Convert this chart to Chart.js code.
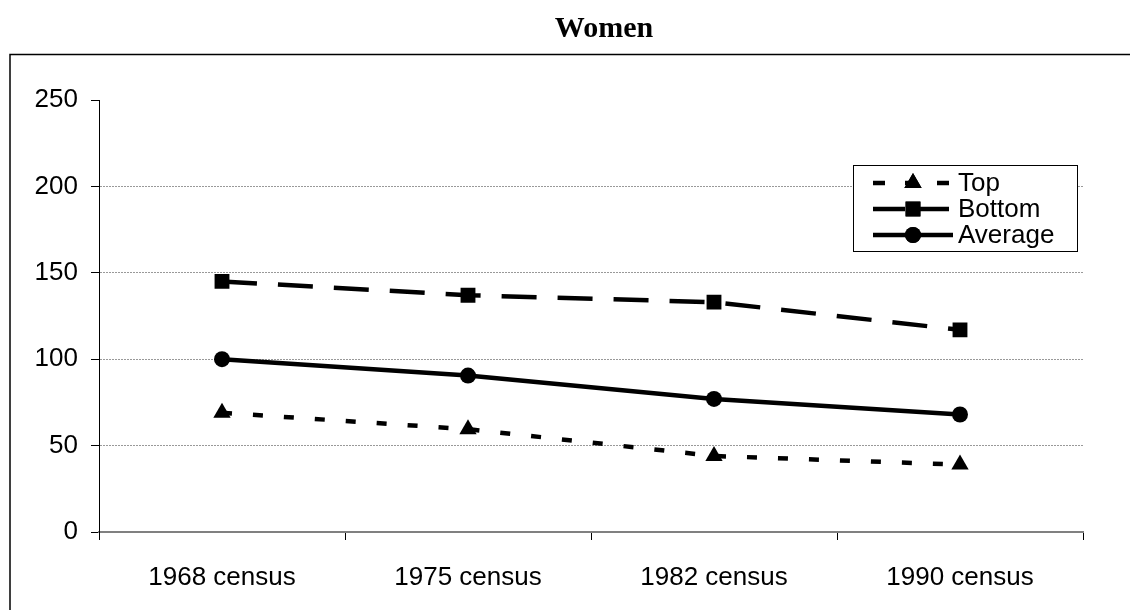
<!DOCTYPE html>
<html>
<head>
<meta charset="utf-8">
<script src="https://cdn.jsdelivr.net/npm/chart.js@4.4.1/dist/chart.umd.min.js"></script>
<style>
  html, body { margin: 0; padding: 0; background: #fff; }
  #wrap { width: 1130px; height: 610px; position: relative; }
</style>
</head>
<body>
<div id="wrap"><canvas id="womenChart"></canvas></div>
<script>
// data
const censusLabels = ['1968 census', '1975 census', '1982 census', '1990 census'];
const topValues = [69, 59.5, 44, 39];
const bottomValues = [145, 137, 133, 117];
const averageValues = [100, 90.5, 77, 68];
const yTicks = [0, 50, 100, 150, 200, 250];

const sansFont = "'Liberation Sans', Arial, sans-serif";
const serifFont = "'Liberation Serif', 'Times New Roman', serif";

// frame round the chart + title
const framePlugin = {
    id: 'frame',
    beforeDraw(chart) {
        const ctx = chart.ctx;
        ctx.save();
        ctx.strokeStyle = '#000';
        ctx.lineWidth = 1.5;
        ctx.strokeRect(10, 54.5, 1300, 800);
        ctx.fillStyle = '#000';
        ctx.font = 'bold 30px ' + serifFont;
        ctx.textAlign = 'center';
        ctx.textBaseline = 'middle';
        ctx.fillText('Women', 604, 29);
        ctx.restore();
    }
};

// legend box inside the plot, like the original
const boxLegend = {
    id: 'boxLegend',
    afterDraw(chart) {
        const ctx = chart.ctx;
        const x0 = 853, y0 = 165, w = 224, h = 86;
        ctx.save();
        ctx.fillStyle = '#fff';
        ctx.fillRect(x0, y0, w, h);
        ctx.strokeStyle = '#000';
        ctx.lineWidth = 1;
        ctx.strokeRect(x0 + 0.5, y0 + 0.5, w, h);
        chart.data.datasets.forEach((ds, i) => {
            const cy = y0 + 18 + i * 26;
            ctx.beginPath();
            ctx.setLineDash(ds.legendDash || []);
            ctx.lineWidth = ds.borderWidth;
            ctx.strokeStyle = ds.borderColor;
            ctx.moveTo(873, cy);
            ctx.lineTo(953, cy);
            ctx.stroke();
            ctx.setLineDash([]);
            ctx.fillStyle = '#000';
            Chart.helpers.drawPoint(ctx, {
                pointStyle: ds.pointStyle,
                radius: ds.pointRadius,
                rotation: 0,
                borderWidth: 0
            }, 913, cy);
            ctx.fill();
            ctx.font = '26px ' + sansFont;
            ctx.textAlign = 'left';
            ctx.textBaseline = 'middle';
            ctx.fillText(ds.label, 958, cy + 1);
        });
        ctx.restore();
    }
};

new Chart(document.getElementById('womenChart'), {
    type: 'line',
    data: {
        labels: censusLabels,
        datasets: [
            {
                label: 'Top',
                data: topValues,
                borderColor: '#000',
                backgroundColor: '#000',
                borderWidth: 4.5,
                borderDash: [10, 21],
                legendDash: [12, 20],
                pointStyle: 'triangle',
                pointRadius: 10,
                pointBorderWidth: 0,
                tension: 0
            },
            {
                label: 'Bottom',
                data: bottomValues,
                borderColor: '#000',
                backgroundColor: '#000',
                borderWidth: 4.5,
                borderDash: [35, 21],
                legendDash: [32, 12],
                pointStyle: 'rect',
                pointRadius: 10.5,
                pointBorderWidth: 0,
                tension: 0
            },
            {
                label: 'Average',
                data: averageValues,
                borderColor: '#000',
                backgroundColor: '#000',
                borderWidth: 4.5,
                pointStyle: 'circle',
                pointRadius: 8,
                pointBorderWidth: 0,
                tension: 0
            }
        ]
    },
    options: {
        responsive: true,
        maintainAspectRatio: false,
        animation: false,
        layout: {
            padding: { top: 100, right: 47, bottom: 0, left: 0 }
        },
        plugins: {
            legend: { display: false },
            title: { display: false },
            tooltip: { enabled: false }
        },
        scales: {
            x: {
                type: 'category',
                offset: true,
                afterFit: function(scale) { scale.height = 78; },
                grid: {
                    offset: true,
                    drawOnChartArea: false,
                    drawTicks: true,
                    tickLength: 8,
                    tickColor: '#000',
                    lineWidth: 1
                },
                border: { color: '#808080', width: 2 },
                ticks: {
                    color: '#000',
                    padding: 22,
                    font: { family: sansFont, size: 26 }
                }
            },
            y: {
                min: 0,
                max: 250,
                afterFit: function(scale) { scale.width = 99; },
                afterBuildTicks: function(scale) {
                    scale.ticks = yTicks.map(v => ({ value: v }));
                },
                grid: {
                    color: function(ctx) {
                        const v = ctx.tick ? ctx.tick.value : null;
                        return (v === 0 || v === 250) ? 'rgba(0,0,0,0)' : '#999';
                    },
                    tickColor: '#000',
                    tickLength: 8,
                    lineWidth: 1
                },
                border: { color: '#000', width: 1, dash: [2, 1] },
                ticks: {
                    color: '#000',
                    padding: 13,
                    font: { family: sansFont, size: 26 }
                }
            }
        }
    },
    plugins: [framePlugin, boxLegend]
});
</script>
</body>
</html>
